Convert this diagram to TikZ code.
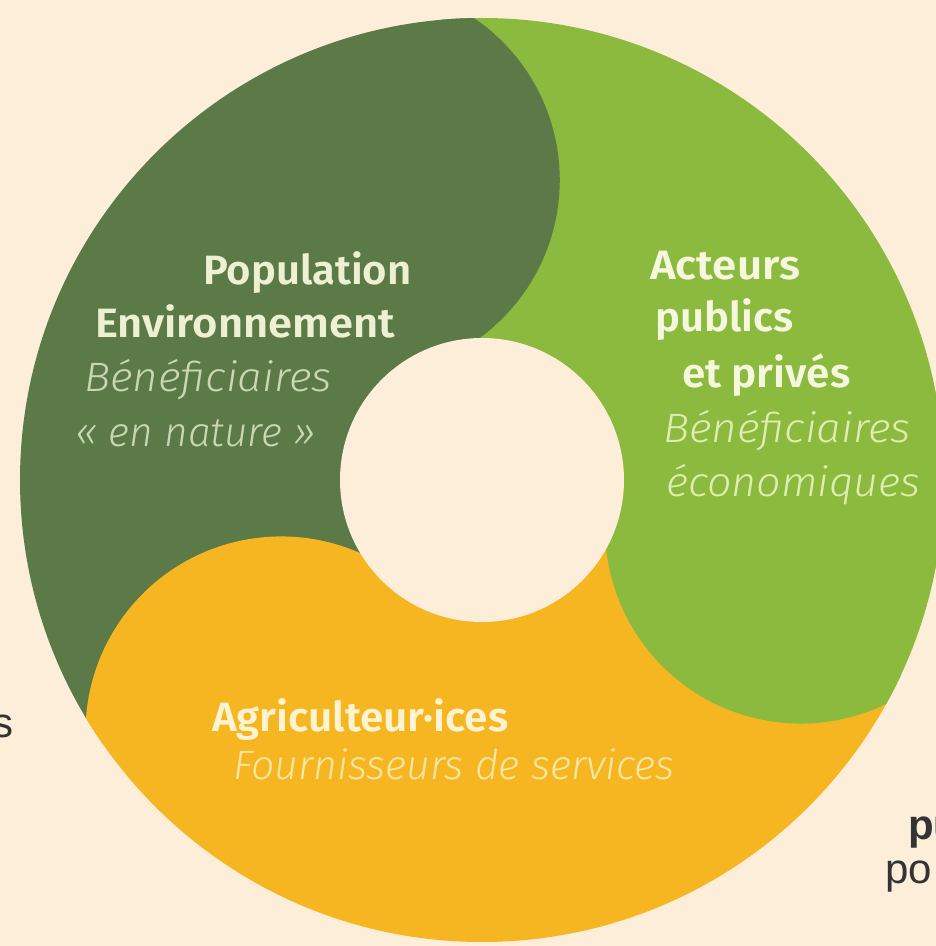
\documentclass[tikz,border=0pt]{standalone}
\usepackage{fontspec}
\setmainfont{Fira Sans}[BoldFont={Fira Sans SemiBold},ItalicFont={Fira Sans Light Italic}]
\newfontfamily\outsidefont{Liberation Sans}
\usetikzlibrary{calc}
\definecolor{bg}{HTML}{FDEEDA}
\definecolor{darkg}{HTML}{5B7A47}
\definecolor{lightg}{HTML}{8BBA3E}
\definecolor{yel}{HTML}{F5B622}
\definecolor{dgbold}{HTML}{EEF0D2}
\definecolor{dgital}{HTML}{CAD7B5}
\definecolor{lgbold}{HTML}{F6F8DE}
\definecolor{lgital}{HTML}{DDEEB0}
\definecolor{ybold}{HTML}{FFF3D2}
\definecolor{yital}{HTML}{FDE6A2}
\definecolor{outtext}{HTML}{333333}
\tikzset{
  boldlbl/.style={anchor=base west, inner sep=0pt, font=\fontsize{41}{41}\selectfont\bfseries},
  itallbl/.style={anchor=base west, inner sep=0pt, font=\fontsize{41}{41}\selectfont\itshape},
  outlbl/.style={inner sep=0pt, text=outtext, font=\fontsize{42}{42}\selectfont\outsidefont}
}
\newcommand{\hsc}[2]{\scalebox{#1}[1]{#2}}
\begin{document}
\begin{tikzpicture}[x=1pt,y=1pt]
\useasboundingbox (0,0) rectangle (936,946);
\fill[bg] (0,0) rectangle (936,946);
\coordinate (C) at (482,466);
\begin{scope}
  \clip (C) circle[radius=462];
  % wedges
  \fill[darkg] (C) -- ++(91:520) arc[start angle=91,end angle=211,radius=520] -- cycle;
  \fill[yel] (C) -- ++(211:520) arc[start angle=211,end angle=331,radius=520] -- cycle;
  \fill[lightg] (C) -- ++(331:520) arc[start angle=331,end angle=451,radius=520] -- cycle;
  % lobes (each overlaps its own wedge a little to hide seams)
  \fill[darkg] ($(C)+(95:130)$) -- ($(C)+(95:480)$) -- ($(C)+(91:480)$) -- ($(C)+(91:462)$)
     arc[start angle=55.85,end angle=-53.85,radius=195.7] -- ($(C)+(91:130)$) -- cycle;
  \fill[yel] ($(C)+(215:130)$) -- ($(C)+(215:480)$) -- ($(C)+(211:480)$) -- ($(C)+(211:462)$)
     arc[start angle=175.85,end angle=66.15,radius=195.7] -- ($(C)+(211:130)$) -- cycle;
  \fill[lightg] ($(C)+(335:130)$) -- ($(C)+(335:480)$) -- ($(C)+(331:480)$) -- ($(C)+(331:462)$)
     arc[start angle=295.85,end angle=186.15,radius=195.7] -- ($(C)+(331:130)$) -- cycle;
\end{scope}
\fill[bg] (C) circle[radius=142];

% dark green texts
\node[boldlbl, text=dgbold] (pop) at (203,661) {\hsc{1.02}{Population}};
\node[boldlbl, text=dgbold] (env) at (95,608) {\hsc{1.06}{Environnement}};
\node[itallbl, text=dgital] (ben1) at (84,554) {\hsc{1.07}{Bénéficiaires}};
\node[itallbl, text=dgital] (nat) at (75,499) {\hsc{0.99}{« en nature »}};

% light green texts
\node[boldlbl, text=lgbold] (act) at (650,666) {\hsc{1.07}{Acteurs}};
\node[boldlbl, text=lgbold] (pub) at (655,614) {\hsc{1.02}{publics}};
\node[boldlbl, text=lgbold] (priv) at (682,558) {\hsc{1.03}{et privés}};
\node[itallbl, text=lgital] (ben2) at (663,503) {\hsc{1.07}{Bénéficiaires}};
\node[itallbl, text=lgital] (eco) at (666,449) {\hsc{1.05}{économiques}};

% yellow texts
\node[boldlbl, text=ybold] (agri) at (212,214) {\hsc{1.03}{Agriculteur·ices}};
\node[itallbl, text=yital] (four) at (233,166) {\hsc{1.0}{Fournisseurs de services}};

% outside cut-off texts
\node[outlbl, anchor=base east] (outs) at (14,208) {s};
\node[outlbl, anchor=base west, font=\fontsize{42}{42}\selectfont\outsidefont\bfseries] (outpu) at (908,106) {pu};
\node[outlbl, anchor=base west] (outpo) at (885,62) {po};
\end{tikzpicture}
\end{document}
